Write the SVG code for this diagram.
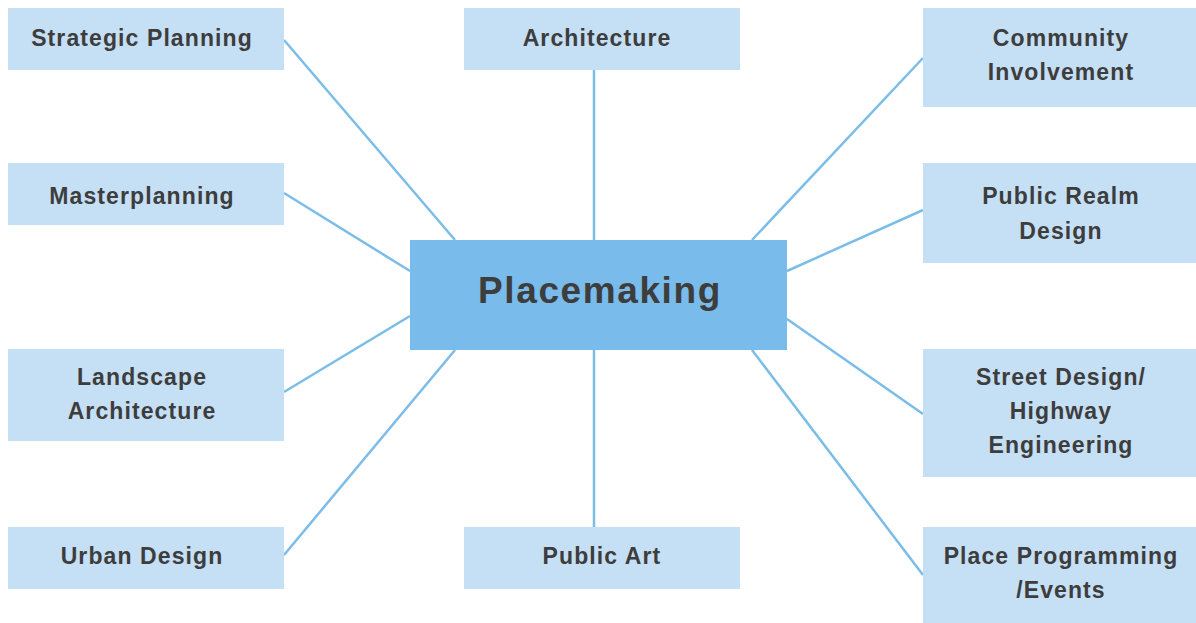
<svg xmlns="http://www.w3.org/2000/svg" width="1196" height="623" viewBox="0 0 1196 623">
<style>
.box{fill:#c5dff5}
.hub{fill:#79bbea}
.lbl{font-family:"Liberation Sans",Arial,sans-serif;font-weight:bold;font-size:23px;fill:#3d3d3d;text-anchor:middle;letter-spacing:1.1px}
.big{font-size:37px;letter-spacing:1.6px}
.conn line{stroke:#7bbde9;stroke-width:2.5}
</style>
<rect width="1196" height="623" fill="#ffffff"/>
<g id="connectors" class="conn">
<line x1="284" y1="40" x2="455" y2="240"/>
<line x1="594" y1="70" x2="594" y2="240"/>
<line x1="923" y1="58" x2="752" y2="240"/>
<line x1="284" y1="193" x2="410" y2="271"/>
<line x1="923" y1="210" x2="787" y2="271"/>
<line x1="284" y1="392" x2="410" y2="316"/>
<line x1="923" y1="414" x2="787" y2="319"/>
<line x1="284" y1="555" x2="455" y2="350"/>
<line x1="594" y1="350" x2="594" y2="527"/>
<line x1="923" y1="575" x2="752" y2="350"/>
</g>
<g id="placemaking"><rect class="hub" x="410" y="240" width="377" height="110"/><text class="lbl big" x="600" y="303">Placemaking</text></g>
<g id="strategic-planning"><rect class="box" x="8" y="8" width="276" height="62"/><text class="lbl" x="142" y="46">Strategic Planning</text></g>
<g id="architecture"><rect class="box" x="464" y="8" width="276" height="62"/><text class="lbl" x="597" y="46">Architecture</text></g>
<g id="community-involvement"><rect class="box" x="923" y="8" width="273" height="99"/><text class="lbl" x="1061" y="46">Community</text><text class="lbl" x="1061" y="80">Involvement</text></g>
<g id="masterplanning"><rect class="box" x="8" y="163" width="276" height="62"/><text class="lbl" x="142" y="204">Masterplanning</text></g>
<g id="public-realm-design"><rect class="box" x="923" y="163" width="273" height="100"/><text class="lbl" x="1061" y="204">Public Realm</text><text class="lbl" x="1061" y="239">Design</text></g>
<g id="landscape-architecture"><rect class="box" x="8" y="349" width="276" height="92"/><text class="lbl" x="142" y="385">Landscape</text><text class="lbl" x="142" y="419">Architecture</text></g>
<g id="street-design"><rect class="box" x="923" y="349" width="273" height="128"/><text class="lbl" x="1061" y="385">Street Design/</text><text class="lbl" x="1061" y="419">Highway</text><text class="lbl" x="1061" y="453">Engineering</text></g>
<g id="urban-design"><rect class="box" x="8" y="527" width="276" height="62"/><text class="lbl" x="142" y="564">Urban Design</text></g>
<g id="public-art"><rect class="box" x="464" y="527" width="276" height="62"/><text class="lbl" x="602" y="564">Public Art</text></g>
<g id="place-programming"><rect class="box" x="923" y="527" width="273" height="96"/><text class="lbl" x="1061" y="564">Place Programming</text><text class="lbl" x="1061" y="598">/Events</text></g>
</svg>
